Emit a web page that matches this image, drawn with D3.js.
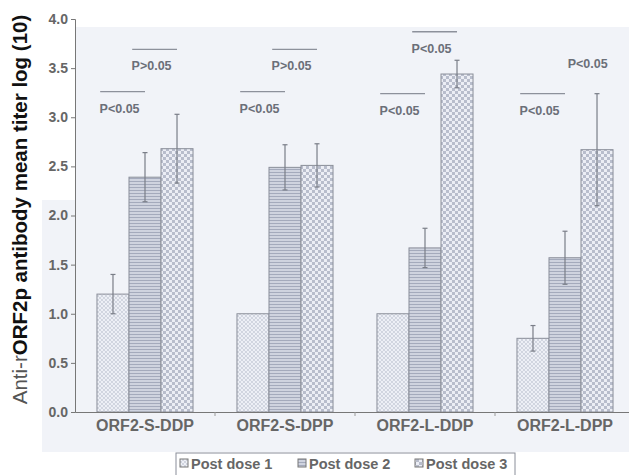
<!DOCTYPE html>
<html>
<head>
<meta charset="utf-8">
<script src="https://cdn.jsdelivr.net/npm/d3@7"></script>
<style>
  body { margin: 0; background: #fff; }
  svg { display: block; font-family: "Liberation Sans", Arial, sans-serif; }
</style>
</head>
<body>
<div id="chart"></div>
<script>
const groups = ['ORF2-S-DDP', 'ORF2-S-DPP', 'ORF2-L-DDP', 'ORF2-L-DPP'];
const seriesNames = ['Post dose 1', 'Post dose 2', 'Post dose 3'];
const dose1 = [1.2, 1.0, 1.0, 0.75];
const dose2 = [2.39, 2.49, 1.67, 1.57];
const dose3 = [2.68, 2.51, 3.44, 2.67];
const err1 = [0.2, 0, 0, 0.13];
const err2 = [0.25, 0.23, 0.2, 0.27];
const err3 = [0.35, 0.22, 0.14, 0.57];
const yTicks = [0, 0.5, 1.0, 1.5, 2.0, 2.5, 3.0, 3.5, 4.0];
// significance marks: group, from series, to series, level, label
const sigGroup = [0, 0, 1, 1, 2, 2, 3, 3];
const sigFrom = [0, 1, 0, 1, 0, 1, 0, 2];
const sigTo = [1, 2, 1, 2, 1, 2, 1, 2];
const sigLevel = [3.26, 3.69, 3.26, 3.69, 3.24, 3.87, 3.24, 3.72];
const sigLabel = ['P<0.05', 'P>0.05', 'P<0.05', 'P>0.05', 'P<0.05', 'P<0.05', 'P<0.05', 'P<0.05'];
const sigLine = [true, true, true, true, true, true, true, false];

const width = 629, height = 475;
const margin = { top: 19, right: -6, bottom: 63, left: 75 };
const innerW = width - margin.left - margin.right;
const innerH = height - margin.top - margin.bottom;

const values = [dose1, dose2, dose3];
const errors = [err1, err2, err3];

const svg = d3.select('#chart').append('svg')
  .attr('width', width)
  .attr('height', height);

// patterns for the bar fills
const defs = svg.append('defs');
const p1 = defs.append('pattern').attr('id', 'pat0').attr('patternUnits', 'userSpaceOnUse')
  .attr('width', 4).attr('height', 4);
p1.append('rect').attr('width', 4).attr('height', 4).attr('fill', '#eef0f6');
p1.append('circle').attr('cx', 1).attr('cy', 1).attr('r', 0.9).attr('fill', '#c3c8d6');
p1.append('circle').attr('cx', 3).attr('cy', 3).attr('r', 0.9).attr('fill', '#c3c8d6');

const p2 = defs.append('pattern').attr('id', 'pat1').attr('patternUnits', 'userSpaceOnUse')
  .attr('width', 3).attr('height', 3);
p2.append('rect').attr('width', 3).attr('height', 3).attr('fill', '#cfd3df');
p2.append('rect').attr('y', 0).attr('width', 3).attr('height', 1).attr('fill', '#a4aabc');

const p3 = defs.append('pattern').attr('id', 'pat2').attr('patternUnits', 'userSpaceOnUse')
  .attr('width', 6).attr('height', 6);
p3.append('rect').attr('width', 6).attr('height', 6).attr('fill', '#eceef5');
p3.append('rect').attr('width', 3).attr('height', 3).attr('fill', '#b8bdcc');
p3.append('rect').attr('x', 3).attr('y', 3).attr('width', 3).attr('height', 3).attr('fill', '#b8bdcc');

// scanned page tint
svg.append('rect').attr('x', 75).attr('y', 27).attr('width', width - 75).attr('height', 425)
  .attr('fill', '#f1f3f8');
svg.append('rect').attr('x', 42).attr('y', 200).attr('width', 33).attr('height', 252)
  .attr('fill', '#f1f3f8');

const x0 = d3.scaleBand()
  .domain(groups)
  .range([0, 560])
  .paddingInner(0.314)
  .paddingOuter(0.157);

const x1 = d3.scaleBand()
  .domain(d3.range(seriesNames.length))
  .range([0, x0.bandwidth()]);

const y = d3.scaleLinear()
  .domain([0, 4])
  .range([innerH, 0]);

const g = svg.append('g')
  .attr('transform', 'translate(' + margin.left + ',' + margin.top + ')');

// bars
groups.forEach((grp, gi) => {
  const gg = g.append('g').attr('transform', 'translate(' + x0(grp) + ',0)');
  values.forEach((vals, si) => {
    gg.append('rect')
      .attr('x', x1(si))
      .attr('y', y(vals[gi]))
      .attr('width', x1.bandwidth())
      .attr('height', innerH - y(vals[gi]))
      .attr('fill', 'url(#pat' + si + ')')
      .attr('stroke', '#8a8e99')
      .attr('stroke-width', 1);
  });
  values.forEach((vals, si) => {
    const e = errors[si][gi];
    if (!e) { return; }
    const cx = x1(si) + x1.bandwidth() / 2;
    gg.append('line')
      .attr('x1', cx).attr('x2', cx)
      .attr('y1', y(vals[gi] + e)).attr('y2', y(vals[gi] - e))
      .attr('stroke', '#7a7e88').attr('stroke-width', 1.2);
    gg.append('line')
      .attr('x1', cx - 2.5).attr('x2', cx + 2.5)
      .attr('y1', y(vals[gi] + e)).attr('y2', y(vals[gi] + e))
      .attr('stroke', '#7a7e88').attr('stroke-width', 1.2);
    gg.append('line')
      .attr('x1', cx - 2.5).attr('x2', cx + 2.5)
      .attr('y1', y(vals[gi] - e)).attr('y2', y(vals[gi] - e))
      .attr('stroke', '#7a7e88').attr('stroke-width', 1.2);
  });
});

// significance lines and labels
sigGroup.forEach((gi, k) => {
  const bw = x1.bandwidth();
  const xa = x0(groups[gi]) + x1(sigFrom[k]) + bw * 0.1;
  const xb = x0(groups[gi]) + x1(sigTo[k]) + bw * 0.5;
  const ly = y(sigLevel[k]);
  if (sigLine[k]) {
    g.append('line')
      .attr('x1', xa).attr('x2', xb)
      .attr('y1', ly).attr('y2', ly)
      .attr('stroke', '#8d919b').attr('stroke-width', 1.3);
  }
  g.append('text')
    .attr('x', (xa + xb) / 2 - 3)
    .attr('y', ly + 21)
    .attr('text-anchor', 'middle')
    .attr('font-size', 12.5)
    .attr('font-weight', 'bold')
    .attr('fill', '#6b6f78')
    .text(sigLabel[k]);
});

// axes
const yAxis = g.append('g')
  .call(d3.axisLeft(y).tickValues(yTicks).tickFormat(d3.format('.1f')).tickSize(4));
yAxis.select('.domain').attr('stroke', '#777');
yAxis.selectAll('.tick line').attr('stroke', '#777');
yAxis.selectAll('.tick text')
  .attr('font-size', 14)
  .attr('font-weight', 'bold')
  .attr('fill', '#666')
  .attr('x', -7);

const xAxis = g.append('g')
  .attr('transform', 'translate(0,' + innerH + ')')
  .call(d3.axisBottom(x0).tickSize(0).tickPadding(8));
xAxis.select('.domain').attr('stroke', '#777').attr('stroke-width', 1.2);
xAxis.selectAll('.tick text')
  .attr('font-size', 16)
  .attr('font-weight', 'bold')
  .attr('fill', '#666');
// small marks between groups
xAxis.selectAll('.sep')
  .data(groups.slice(1))
  .enter().append('line')
  .attr('x1', d => x0(d) - x0.step() * x0.paddingInner() / 2)
  .attr('x2', d => x0(d) - x0.step() * x0.paddingInner() / 2)
  .attr('y1', 0).attr('y2', 4)
  .attr('stroke', '#999');

// y axis title
const title = svg.append('text')
  .attr('transform', 'translate(27,' + (margin.top + innerH / 2 - 6) + ') rotate(-90)')
  .attr('text-anchor', 'middle')
  .attr('font-size', 20.5);
title.append('tspan').attr('fill', '#555').text('Anti-r');
title.append('tspan').attr('fill', '#111').attr('font-weight', 'bold').text('ORF2p antibody mean titer log (10)');

// legend
const legend = svg.append('g').attr('transform', 'translate(176,453)');
legend.append('rect')
  .attr('width', 339).attr('height', 26)
  .attr('fill', '#fff').attr('stroke', '#8a8e99');
const legX = [4, 122, 239];
seriesNames.forEach((name, i) => {
  legend.append('rect')
    .attr('x', legX[i]).attr('y', 6)
    .attr('width', 8).attr('height', 8)
    .attr('fill', 'url(#pat' + i + ')')
    .attr('stroke', '#777');
  legend.append('text')
    .attr('x', legX[i] + 11).attr('y', 16)
    .attr('font-size', 14.5)
    .attr('font-weight', 'bold')
    .attr('fill', '#666')
    .text(name);
});
</script>
</body>
</html>
